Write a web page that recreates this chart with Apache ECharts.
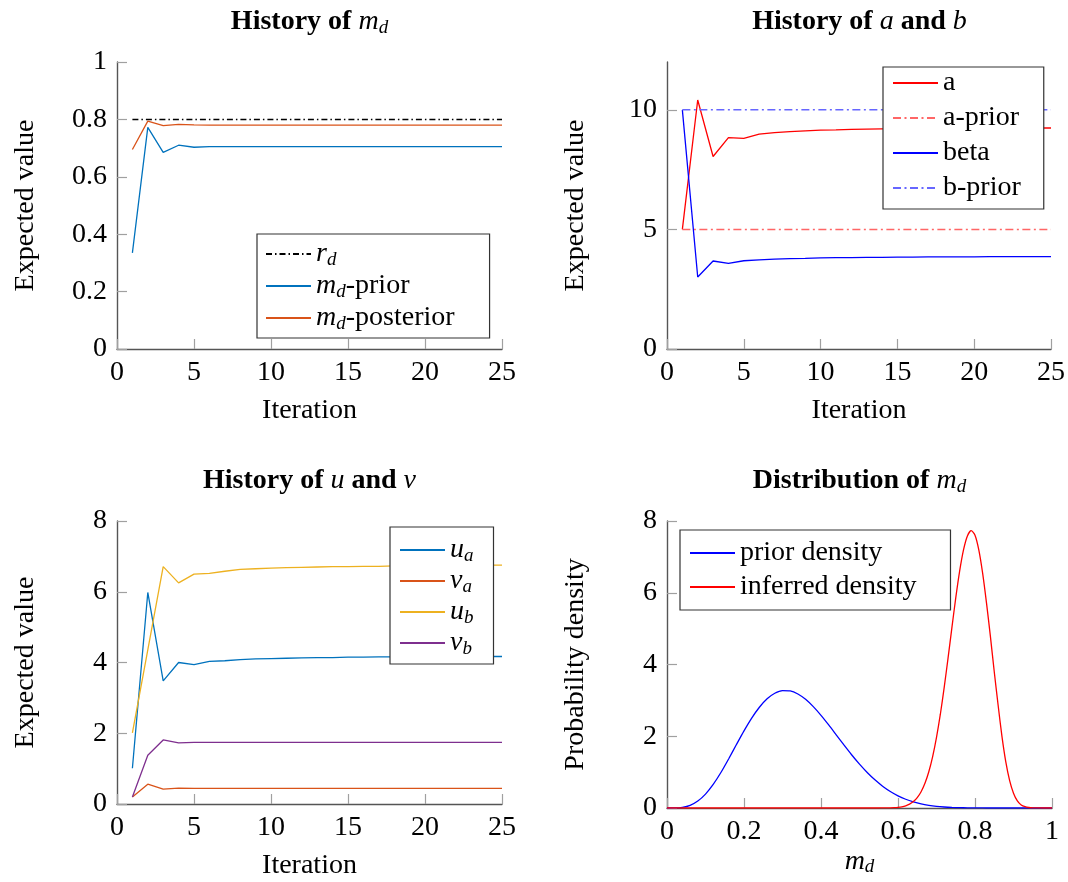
<!DOCTYPE html>
<html>
<head>
<meta charset="utf-8">
<script src="https://cdn.jsdelivr.net/npm/echarts@6/dist/echarts.min.js"></script>
<style>
  html, body { margin: 0; padding: 0; background: #fff; }
  #chart { width: 1068px; height: 882px; }
</style>
</head>
<body>
<div id="chart"></div>
<script>
// iteration index shared by the three history panels
const iterations = [1, 2, 3, 4, 5, 6, 7, 8, 9, 10, 11, 12, 13, 14, 15, 16, 17, 18, 19, 20, 21, 22, 23, 24, 25];

// History of m_d
const rd = [0.8, 0.8, 0.8, 0.8, 0.8, 0.8, 0.8, 0.8, 0.8, 0.8, 0.8, 0.8, 0.8, 0.8, 0.8, 0.8, 0.8, 0.8, 0.8, 0.8, 0.8, 0.8, 0.8, 0.8, 0.8];
const mdPrior = [0.335, 0.772, 0.685, 0.710, 0.703, 0.705, 0.705, 0.705, 0.705, 0.705, 0.705, 0.705, 0.705, 0.705, 0.705, 0.705, 0.705, 0.705, 0.705, 0.705, 0.705, 0.705, 0.705, 0.705, 0.705];
const mdPosterior = [0.695, 0.794, 0.778, 0.783, 0.781, 0.780, 0.780, 0.780, 0.780, 0.780, 0.780, 0.780, 0.780, 0.780, 0.780, 0.780, 0.780, 0.780, 0.780, 0.780, 0.780, 0.780, 0.780, 0.780, 0.780];

// History of a and b
const aHist = [5.0, 10.41, 8.05, 8.84, 8.81, 8.98, 9.05, 9.09, 9.12, 9.15, 9.16, 9.18, 9.19, 9.20, 9.21, 9.21, 9.22, 9.22, 9.23, 9.23, 9.23, 9.24, 9.24, 9.24, 9.24];
const aPrior = [5, 5, 5, 5, 5, 5, 5, 5, 5, 5, 5, 5, 5, 5, 5, 5, 5, 5, 5, 5, 5, 5, 5, 5, 5];
const betaHist = [10.0, 3.01, 3.68, 3.58, 3.69, 3.73, 3.76, 3.78, 3.79, 3.81, 3.82, 3.82, 3.83, 3.83, 3.84, 3.84, 3.85, 3.85, 3.85, 3.85, 3.86, 3.86, 3.86, 3.86, 3.86];
const bPrior = [10, 10, 10, 10, 10, 10, 10, 10, 10, 10, 10, 10, 10, 10, 10, 10, 10, 10, 10, 10, 10, 10, 10, 10, 10];

// History of u and v
const ua = [1.01, 5.98, 3.48, 4.00, 3.94, 4.03, 4.05, 4.08, 4.10, 4.11, 4.12, 4.13, 4.14, 4.14, 4.15, 4.15, 4.16, 4.16, 4.16, 4.16, 4.17, 4.17, 4.17, 4.17, 4.17];
const va = [0.20, 0.56, 0.42, 0.45, 0.44, 0.44, 0.44, 0.44, 0.44, 0.44, 0.44, 0.44, 0.44, 0.44, 0.44, 0.44, 0.44, 0.44, 0.44, 0.44, 0.44, 0.44, 0.44, 0.44, 0.44];
const ub = [2.01, 4.36, 6.71, 6.25, 6.50, 6.52, 6.58, 6.63, 6.65, 6.67, 6.68, 6.69, 6.70, 6.71, 6.71, 6.72, 6.72, 6.73, 6.73, 6.74, 6.74, 6.74, 6.75, 6.75, 6.75];
const vb = [0.20, 1.38, 1.81, 1.73, 1.74, 1.74, 1.74, 1.74, 1.74, 1.74, 1.74, 1.74, 1.74, 1.74, 1.74, 1.74, 1.74, 1.74, 1.74, 1.74, 1.74, 1.74, 1.74, 1.74, 1.74];

// Distribution of m_d
const priorX = [0, 0.02, 0.04, 0.06, 0.08, 0.10, 0.12, 0.14, 0.16, 0.18, 0.20, 0.22, 0.24, 0.26, 0.28, 0.30, 0.32, 0.34, 0.36, 0.38, 0.40, 0.42, 0.44, 0.46, 0.48, 0.50,
  0.52, 0.54, 0.56, 0.58, 0.60, 0.62, 0.64, 0.66, 0.68, 0.70, 0.72, 0.74, 0.76, 0.78, 0.80, 0.82, 0.84, 0.86, 0.88, 0.90, 0.92, 0.94, 0.96, 0.98, 1.00];
const priorDensity = [0, 0.0013, 0.0177, 0.0743, 0.194, 0.388, 0.657, 0.989, 1.366, 1.762, 2.150, 2.506, 2.809, 3.044, 3.199, 3.272, 3.264, 3.179, 3.029, 2.825, 2.583, 2.315, 2.033, 1.750, 1.477, 1.222,
  0.990, 0.785, 0.609, 0.461, 0.340, 0.244, 0.171, 0.115, 0.0753, 0.047, 0.0285, 0.0163, 0.0088, 0.0045, 0.0021, 0.0009, 0.0003, 0.0001, 0, 0, 0, 0, 0, 0, 0];
const inferredX = [0, 0.55, 0.56, 0.57, 0.58, 0.59, 0.60, 0.61, 0.62, 0.63, 0.64, 0.65, 0.66, 0.67, 0.68, 0.69, 0.70, 0.71, 0.72, 0.73, 0.74, 0.75,
  0.76, 0.77, 0.78, 0.79, 0.80, 0.81, 0.82, 0.83, 0.84, 0.85, 0.86, 0.87, 0.88, 0.89, 0.90, 0.91, 0.92, 0.93, 0.94, 0.95, 0.96, 1.00];
const inferredDensity = [0, 0.0005, 0.0011, 0.0024, 0.0049, 0.0097, 0.0186, 0.0344, 0.0616, 0.1066, 0.178, 0.289, 0.453, 0.687, 1.009, 1.432, 1.967, 2.614, 3.360, 4.179, 5.029, 5.855,
  6.595, 7.187, 7.577, 7.730, 7.606, 7.191, 6.534, 5.703, 4.783, 3.799, 2.870, 1.996, 1.286, 0.763, 0.411, 0.199, 0.0859, 0.0367, 0.0144, 0.005, 0.0015, 0];

const FONT = '"Liberation Serif", "DejaVu Serif", serif';
const math = {
  i: { fontFamily: FONT, fontStyle: 'italic', fontSize: 28, color: '#000', lineHeight: 30, verticalAlign: 'middle' },
  s: { fontFamily: FONT, fontStyle: 'italic', fontSize: 19, color: '#000', lineHeight: 12, verticalAlign: 'bottom' },
};
const titleRich = {
  b: { fontFamily: FONT, fontWeight: 'bold', fontSize: 28, color: '#000', lineHeight: 30, verticalAlign: 'middle' },
  i: { fontFamily: FONT, fontStyle: 'italic', fontSize: 28, color: '#000', lineHeight: 30, verticalAlign: 'middle' },
  s: { fontFamily: FONT, fontStyle: 'italic', fontSize: 19, color: '#000', lineHeight: 12, verticalAlign: 'bottom' },
};
const toMath = (name) => name.replace(/^(\w)_(\w)/, '{i|$1}{s|$2}');
const pairs = (xs, ys) => xs.map((x, k) => [x, ys[k]]);

const grids = [
  { left: 117, top: 62, width: 385, height: 287 },
  { left: 667, top: 62, width: 385, height: 287 },
  { left: 117, top: 521, width: 385, height: 287 },
  { left: 667, top: 521, width: 385, height: 287 },
];

const tickStyle = { show: true, inside: true, length: 10, lineStyle: { color: '#a0a0a0', width: 1.2 } };
const labelStyle = { color: '#000', fontFamily: FONT, fontSize: 28, margin: 10 };

const axisLook = (gridIndex, extra) => Object.assign({
  type: 'value', gridIndex,
  axisLine: { show: true, lineStyle: { color: '#555', width: 1.4 } },
  axisTick: tickStyle,
  axisLabel: labelStyle,
  splitLine: { show: false },
  nameLocation: 'middle',
  nameTextStyle: { color: '#000', fontFamily: FONT, fontSize: 28, lineHeight: 30, rich: math },
}, extra);

const xIter = (g) => axisLook(g, { min: 0, max: 25, interval: 5, name: 'Iteration', nameGap: 47 });
const yName = (g, name, extra) => axisLook(g, Object.assign({ name, nameRotate: 90, nameGap: 76 }, extra));

const legendBox = (data, left, top, padding, lineHeight, itemGap) => ({
  data, left, top, orient: 'vertical', padding, itemGap,
  itemWidth: 45, itemHeight: 14,
  itemStyle: { opacity: 0 },
  backgroundColor: '#fff', borderColor: '#333', borderWidth: 1.2, borderRadius: 0,
  formatter: toMath,
  textStyle: { color: '#000', fontFamily: FONT, fontSize: 28, lineHeight, rich: math },
});

const line = (name, g, xs, ys, color, extra) => Object.assign({
  name, type: 'line', xAxisIndex: g, yAxisIndex: g,
  data: pairs(xs, ys), symbol: 'none', showSymbol: false,
  lineStyle: { color, width: 1.3 }, itemStyle: { color },
}, extra);
const dashDot = (name, g, xs, ys, color, dash) => line(name, g, xs, ys, color, {
  lineStyle: { color, width: 1.5, type: dash },
});

const titleText = (x, y, text) => ({
  type: 'text', x, y, silent: true,
  style: { text, align: 'center', textAlign: 'center', verticalAlign: 'middle', textVerticalAlign: 'middle', rich: titleRich },
});

const option = {
  animation: false,
  backgroundColor: '#fff',
  graphic: [
    titleText(309.5, 22, '{b|History of }{i|m}{s|d}'),
    titleText(859.5, 22, '{b|History of }{i|a}{b| and }{i|b}'),
    titleText(309.5, 481, '{b|History of }{i|u}{b| and }{i|v}'),
    titleText(859.5, 481, '{b|Distribution of }{i|m}{s|d}'),
  ],
  grid: grids,
  xAxis: [
    xIter(0),
    xIter(1),
    xIter(2),
    axisLook(3, { min: 0, max: 1, interval: 0.2, name: '{i|m}{s|d}', nameGap: 36 }),
  ],
  yAxis: [
    yName(0, 'Expected value', { min: 0, max: 1, interval: 0.2 }),
    yName(1, 'Expected value', { min: 0, max: 12, interval: 5,
      axisLabel: Object.assign({ customValues: [0, 5, 10] }, labelStyle),
      axisTick: Object.assign({ customValues: [0, 5, 10] }, tickStyle) }),
    yName(2, 'Expected value', { min: 0, max: 8, interval: 2 }),
    yName(3, 'Probability density', { min: 0, max: 8, interval: 2 }),
  ],
  legend: [
    legendBox(['r_d', 'm_d-prior', 'm_d-posterior'], 257, 234, [5, 35, 5, 8], 30, 2),
    legendBox(['a', 'a-prior', 'beta', 'b-prior'], 883, 67, [1, 23, 6, 9], 30, 5),
    legendBox(['u_a', 'v_a', 'u_b', 'v_b'], 390, 527, [8, 20, 6, 9], 26, 1),
    legendBox(['prior density', 'inferred density'], 680, 530, [8, 34, 8, 9], 30, 4),
  ],
  series: [
    dashDot('r_d', 0, iterations, rd, '#000', [6, 3, 1.5, 3]),
    line('m_d-prior', 0, iterations, mdPrior, '#0072BD'),
    line('m_d-posterior', 0, iterations, mdPosterior, '#D95319'),

    line('a', 1, iterations, aHist, '#ff0000'),
    dashDot('a-prior', 1, iterations, aPrior, '#ff6666', [8, 3.5, 2, 3.5]),
    line('beta', 1, iterations, betaHist, '#0000ff'),
    dashDot('b-prior', 1, iterations, bPrior, '#6666ff', [8, 3.5, 2, 3.5]),

    line('u_a', 2, iterations, ua, '#0072BD'),
    line('v_a', 2, iterations, va, '#D95319'),
    line('u_b', 2, iterations, ub, '#EDB120'),
    line('v_b', 2, iterations, vb, '#7E2F8E'),

    line('prior density', 3, priorX, priorDensity, '#0000ff', { smooth: 0.25 }),
    line('inferred density', 3, inferredX, inferredDensity, '#ff0000', { smooth: 0.25 }),
  ],
};

const chart = echarts.init(document.getElementById('chart'), null, { renderer: 'canvas' });
chart.setOption(option);
</script>
</body>
</html>
